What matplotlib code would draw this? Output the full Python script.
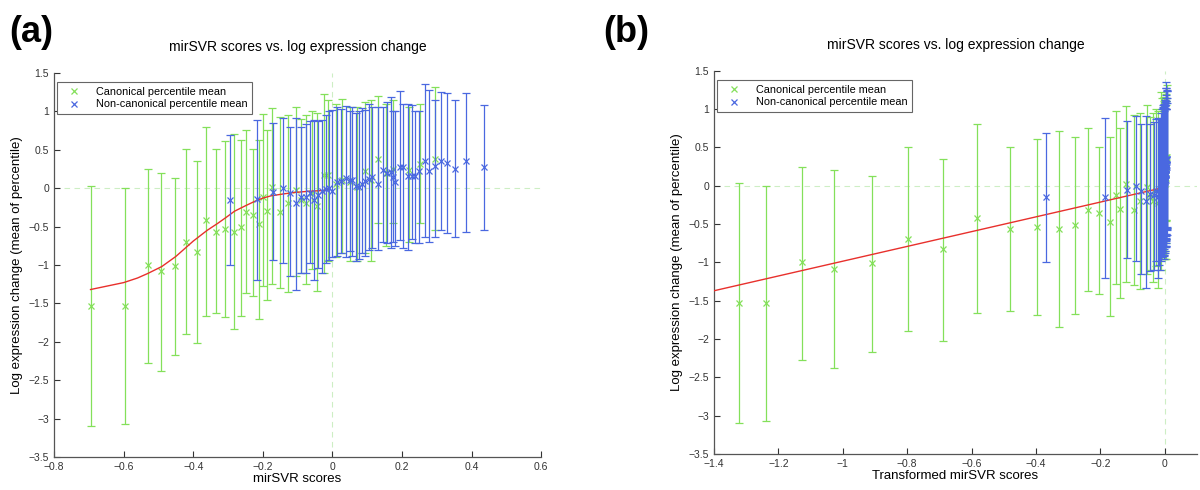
import numpy as np
import matplotlib
matplotlib.use('Agg')
import matplotlib.pyplot as plt
from matplotlib.lines import Line2D

plt.rcParams['font.family'] = ['Liberation Sans', 'DejaVu Sans']

# canonical percentile means (x = mirSVR score, y = mean, lo/hi = bar ends)
can_x = [-0.695, -0.597, -0.531, -0.493, -0.452, -0.421, -0.390, -0.363, -0.334, -0.308,
         -0.283, -0.264, -0.247, -0.229, -0.210, -0.200, -0.188, -0.174, -0.152, -0.129,
         -0.106, -0.090, -0.075, -0.060, -0.045, -0.024, -0.012, 0.010, 0.029, 0.050,
         0.070, 0.095, 0.110, 0.131, 0.155, 0.175, 0.219, 0.252, 0.296]
can_y = [-1.53, -1.535, -1.00, -1.08, -1.01, -0.70, -0.83, -0.42, -0.565, -0.535,
         -0.57, -0.51, -0.31, -0.35, -0.47, -0.12, -0.30, 0.02, -0.31, -0.20,
         -0.02, -0.15, -0.20, -0.06, -0.23, 0.165, 0.17, 0.05, 0.10, 0.08,
         0.02, 0.22, 0.10, 0.38, 0.20, 0.25, 0.24, 0.31, 0.38]
can_lo = [-3.10, -3.07, -2.27, -2.38, -2.17, -1.90, -2.02, -1.66, -1.63, -1.68,
          -1.84, -1.67, -1.37, -1.41, -1.70, -1.28, -1.46, -1.25, -1.30, -1.35,
          -1.15, -1.10, -1.25, -1.05, -1.34, -1.10, -0.95, -0.90, -0.85, -0.95,
          -0.95, -0.85, -0.95, -0.45, -0.75, -0.46, -0.70, -0.45, -0.55]
can_hi = [0.03, 0.00, 0.25, 0.20, 0.13, 0.51, 0.35, 0.80, 0.51, 0.61,
          0.71, 0.63, 0.76, 0.51, 0.63, 0.97, 0.76, 1.04, 0.92, 0.95,
          1.05, 0.90, 0.95, 1.00, 0.98, 1.22, 1.15, 1.10, 1.16, 1.05,
          1.05, 1.12, 1.15, 1.20, 1.10, 1.15, 1.05, 1.10, 1.31]
# transformed scores of the canonical points (panel b)
can_xt = [-1.323, -1.240, -1.126, -1.027, -0.909, -0.796, -0.688, -0.582, -0.482, -0.397,
          -0.328, -0.280, -0.238, -0.203, -0.171, -0.153, -0.138, -0.120, -0.096, -0.076,
          -0.055, -0.045, -0.036, -0.028, -0.020, -0.012, -0.008, -0.004, -0.002, 0.000,
          0.001, 0.002, 0.003, 0.003, 0.004, 0.004, 0.005, 0.005, 0.006]

# non-canonical percentile means
non_x = [-0.295, -0.217, -0.171, -0.143, -0.123, -0.105, -0.090, -0.076, -0.064, -0.052,
         -0.041, -0.031, -0.019, -0.010, 0.000, 0.012, 0.024, 0.040, 0.052, 0.057,
         0.067, 0.076, 0.086, 0.095, 0.105, 0.114, 0.130, 0.145, 0.157, 0.167,
         0.174, 0.181, 0.193, 0.203, 0.216, 0.229, 0.238, 0.250, 0.265, 0.279,
         0.295, 0.311, 0.329, 0.352, 0.384, 0.436]
non_y = [-0.15, -0.143, -0.05, 0.00, -0.07, -0.20, -0.11, -0.12, -0.07, -0.15,
         -0.09, -0.04, -0.01, 0.00, -0.035, 0.08, 0.087, 0.13, 0.108, 0.10,
         0.022, 0.013, 0.056, 0.087, 0.117, 0.143, 0.052, 0.239, 0.195, 0.204,
         0.143, 0.078, 0.273, 0.273, 0.152, 0.152, 0.16, 0.222, 0.352, 0.222,
         0.287, 0.352, 0.33, 0.248, 0.347, 0.269]
non_lo = [-1.00, -1.20, -0.94, -0.98, -1.15, -1.33, -1.11, -1.10, -0.98, -1.20,
          -1.04, -1.10, -0.98, -0.93, -0.90, -0.88, -0.85, -0.90, -0.82, -0.88,
          -0.95, -0.92, -0.85, -0.88, -0.80, -0.78, -0.80, -0.70, -0.72, -0.78,
          -0.70, -0.75, -0.68, -0.78, -0.80, -0.66, -0.72, -0.71, -0.63, -0.70,
          -0.63, -0.55, -0.58, -0.64, -0.565, -0.54]
non_hi = [0.69, 0.88, 0.85, 0.91, 0.80, 0.91, 0.80, 0.83, 0.87, 0.89,
          0.87, 0.89, 0.95, 1.00, 1.02, 1.05, 1.03, 1.07, 1.00, 1.05,
          0.98, 1.00, 1.04, 1.02, 1.09, 1.06, 1.05, 1.06, 1.12, 1.18,
          1.00, 1.00, 1.27, 1.10, 1.10, 1.08, 1.00, 1.00, 1.35, 1.28,
          1.15, 1.25, 1.24, 1.15, 1.24, 1.086]
non_xt = [-0.368, -0.187, -0.117, -0.088, -0.073, -0.058, -0.045, -0.035, -0.028, -0.022,
          -0.018, -0.014, -0.011, -0.008, -0.006, -0.005, -0.0042, -0.0035, -0.0028, -0.0022,
          -0.0016, -0.001, -0.0005, 0.0, 0.0004, 0.0008, 0.0012, 0.0016, 0.002, 0.0024,
          0.0027, 0.003, 0.0033, 0.0036, 0.0039, 0.0042, 0.0044, 0.0046, 0.0048, 0.005,
          0.0052, 0.0054, 0.0056, 0.0058, 0.006, 0.0062]

# fitted curves
fit_x = [-0.695, -0.6, -0.56, -0.53, -0.49, -0.45, -0.42, -0.4, -0.38, -0.36,
         -0.329, -0.305, -0.281, -0.25, -0.224, -0.2, -0.176, -0.14, -0.11, -0.07,
         -0.024, -0.012]
fit_y = [-1.32, -1.23, -1.17, -1.11, -1.02, -0.89, -0.77, -0.69, -0.62, -0.55,
         -0.457, -0.38, -0.30, -0.23, -0.174, -0.13, -0.10, -0.075, -0.057, -0.042,
         -0.03, -0.02]
fit_xt = [-1.40, 0.0]
fit_yt = [-1.37, -0.02]

GREEN = '#84e05a'
BLUE = '#4a68e0'
RED = '#e8302c'
ZERO = '#cdeec4'


def fmt_ticks(ticks):
    return ['0' if abs(t) < 1e-9 else ('%g' % round(t, 2)).replace('-', '\u2212') for t in ticks]


def panel(ax, cx, nx, fx, fy, xlim, xticks, xlabel):
    ax.axhline(0, color=ZERO, ls=(0, (5, 4)), lw=0.8, zorder=0)
    ax.axvline(0, color=ZERO, ls=(0, (5, 4)), lw=0.8, zorder=0)
    cy = np.array(can_y)
    ax.errorbar(cx, cy, yerr=[cy - np.array(can_lo), np.array(can_hi) - cy],
                fmt='x', color=GREEN, ms=4, mew=0.9, elinewidth=0.9, capsize=3,
                capthick=0.9, zorder=2)
    ax.plot(fx, fy, color=RED, lw=1.0, zorder=3)
    ny = np.array(non_y)
    ax.errorbar(nx, ny, yerr=[ny - np.array(non_lo), np.array(non_hi) - ny],
                fmt='x', color=BLUE, ms=4, mew=0.9, elinewidth=0.9, capsize=3,
                capthick=0.9, zorder=4)
    ax.set_xlim(*xlim)
    ax.set_ylim(-3.5, 1.5)
    ax.set_xticks(xticks)
    ax.set_xticklabels(fmt_ticks(xticks))
    yt = np.arange(-3.5, 1.51, 0.5)
    ax.set_yticks(yt)
    ax.set_yticklabels(fmt_ticks(yt))
    ax.tick_params(direction='in', labelsize=7.5, length=4, width=0.8, colors='#333333')
    for s in ['top', 'right']:
        ax.spines[s].set_visible(False)
    for s in ['left', 'bottom']:
        ax.spines[s].set_color('#555555')
        ax.spines[s].set_linewidth(0.9)
    ax.set_title('mirSVR scores vs. log expression change', fontsize=10, pad=16)
    ax.set_xlabel(xlabel, fontsize=9.5, labelpad=1)
    ax.set_ylabel('Log expression change (mean of percentile)', fontsize=9.5, labelpad=4)
    handles = [Line2D([], [], ls='none', marker='x', color=GREEN, ms=4, mew=0.9),
               Line2D([], [], ls='none', marker='x', color=BLUE, ms=4, mew=0.9)]
    leg = ax.legend(handles, ['Canonical percentile mean', 'Non-canonical percentile mean'],
                    loc='upper left', fontsize=7.8, handlelength=2.2, borderpad=0.45,
                    labelspacing=0.25, fancybox=False, framealpha=1,
                    bbox_to_anchor=(0.0, 0.985), handletextpad=0.9, borderaxespad=0.3)
    leg.get_frame().set_edgecolor('#666666')
    leg.get_frame().set_linewidth(0.8)


fig = plt.figure(figsize=(12, 4.9), dpi=100)
ax1 = fig.add_axes([0.045, 0.0673, 0.406, 0.784])
ax2 = fig.add_axes([0.595, 0.0735, 0.4025, 0.782])

panel(ax1, can_x, non_x, fit_x, fit_y, (-0.8, 0.6), np.arange(-0.8, 0.61, 0.2), 'mirSVR scores')
panel(ax2, can_xt, non_xt, fit_xt, fit_yt, (-1.4, 0.1), np.arange(-1.4, 0.01, 0.2),
      'Transformed mirSVR scores')

fig.text(0.008, 0.915, '(a)', fontsize=26, fontweight='bold')
fig.text(0.503, 0.915, '(b)', fontsize=26, fontweight='bold')

fig.savefig('out.png', dpi=100)
